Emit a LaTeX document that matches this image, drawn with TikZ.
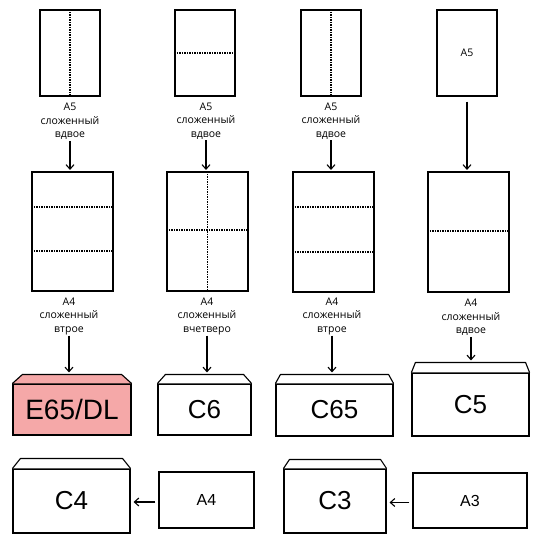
\documentclass[tikz,border=0pt]{standalone}
\usepackage{fontspec}
\setmainfont{Liberation Sans}
\newfontfamily\lblfont{Open Sans}
\usetikzlibrary{arrows.meta}
\definecolor{envpink}{RGB}{245,168,168}
\newcommand\envflap[4]{%
	\draw[line width=1.1pt,fill=#4,line join=round] (#1.north west) -- ([xshift=#2,yshift=#3]#1.north west) -- ([xshift=-#2,yshift=#3]#1.north east) -- (#1.north east);
	\coordinate (#1-top) at ([yshift=#3]#1.north);}
\begin{document}
\begin{tikzpicture}[x=1pt,y=-1pt,
		sheet/.style={draw,line width=1.1pt,inner sep=0pt,font=\lblfont\fontsize{10.5}{12}\selectfont},
		lbl/.style={align=center,inner sep=1pt,font=\lblfont\fontsize{10.5}{13.5}\selectfont},
		env/.style={draw,line width=1.1pt,inner sep=0pt,font=\fontsize{26}{30}\selectfont},
		paper/.style={draw,line width=1.1pt,inner sep=0pt,font=\fontsize{16}{18}\selectfont},
		fold/.style={dash pattern=on 1.1pt off 1.4pt,line width=1.1pt},
		arr/.style={-{Straight Barb[length=4.5pt,width=8pt]},line width=1.1pt}]
	\useasboundingbox (0,0) rectangle (538,538);
	
	\node[sheet,minimum width=60pt,minimum height=86pt] (a5a) at (70,53) {};
	\node[sheet,minimum width=60pt,minimum height=86pt] (a5b) at (205,53) {};
	\node[sheet,minimum width=60pt,minimum height=86pt] (a5c) at (331,53) {};
	\node[sheet,minimum width=60pt,minimum height=86pt] (a5d) at (467,53) {A5};
	\draw[fold] (a5a.north) -- (a5a.south);
	\draw[fold] (a5b.west) -- (a5b.east);
	\draw[fold] (a5c.north) -- (a5c.south);
	
	\node[lbl] (la) at (70,121.5) {A5\\сложенный\\вдвое};
	\node[lbl] (lb) at (206,121) {A5\\сложенный\\вдвое};
	\node[lbl] (lc) at (331,121) {A5\\сложенный\\вдвое};
	
	\node[sheet,minimum width=81pt,minimum height=119pt] (a4a) at (72.5,231.5) {};
	\node[sheet,minimum width=81pt,minimum height=119pt] (a4b) at (207.5,231.5) {};
	\node[sheet,minimum width=81pt,minimum height=120pt] (a4c) at (333.5,232) {};
	\node[sheet,minimum width=81pt,minimum height=120pt] (a4d) at (468.5,232) {};
	\draw[fold] (a4a.west |- 0,207) -- (a4a.east |- 0,207);
	\draw[fold] (a4a.west |- 0,251) -- (a4a.east |- 0,251);
	\draw[fold] (a4b.north) -- (a4b.south);
	\draw[fold] (a4b.west |- 0,230) -- (a4b.east |- 0,230);
	\draw[fold] (a4c.west |- 0,207) -- (a4c.east |- 0,207);
	\draw[fold] (a4c.west |- 0,252) -- (a4c.east |- 0,252);
	\draw[fold] (a4d.west |- 0,231) -- (a4d.east |- 0,231);
	
	\draw[arr,shorten >=1.5pt] (la.south) -- (la.south |- a4a.north);
	\draw[arr,shorten >=1.5pt] (lb.south) -- (lb.south |- a4b.north);
	\draw[arr,shorten >=1.5pt] (lc.south) -- (lc.south |- a4c.north);
	\draw[arr,shorten <=5pt,shorten >=1.5pt] (a5d.south) -- (a5d.south |- a4d.north);
	
	\node[lbl] (ld) at (69,316) {A4\\сложенный\\втрое};
	\node[lbl] (le) at (207,316) {A4\\сложенный\\вчетверо};
	\node[lbl] (lf) at (332,316) {A4\\сложенный\\втрое};
	\node[lbl] (lg) at (471,317.5) {A4\\сложенный\\вдвое};
	
	\node[env,minimum width=118pt,minimum height=51pt,fill=envpink,font=\fontsize{28}{32}\selectfont] (dl) at (72,409.5) {E65/DL};
	\envflap{dl}{10pt}{9pt}{envpink}
	\node[env,minimum width=93pt,minimum height=51pt] (c6) at (204.5,409.5) {C6};
	\envflap{c6}{8pt}{9pt}{white}
	\node[env,minimum width=117pt,minimum height=52pt] (c65) at (334.5,410) {C65};
	\envflap{c65}{5pt}{9pt}{white}
	\node[env,minimum width=117pt,minimum height=63pt] (c5) at (470.5,404.5) {C5};
	\envflap{c5}{4pt}{10pt}{white}
	
	\draw[arr,shorten >=2pt] (ld.south) -- (ld.south |- dl-top);
	\draw[arr,shorten >=2pt] (le.south) -- (le.south |- c6-top);
	\draw[arr,shorten >=2pt] (lf.south) -- (lf.south |- c65-top);
	\draw[arr,shorten >=2pt] (lg.south) -- (lg.south |- c5-top);
	
	\node[env,minimum width=117pt,minimum height=64pt] (c4) at (71.5,501) {C4};
	\envflap{c4}{8pt}{10pt}{white}
	\node[paper,minimum width=95pt,minimum height=56pt] (pa4) at (206.5,500) {A4};
	\node[env,minimum width=102pt,minimum height=64pt] (c3) at (335,501) {C3};
	\envflap{c3}{6pt}{9pt}{white}
	\node[paper,minimum width=114pt,minimum height=55pt] (pa3) at (470,500.5) {A3};
	
	\draw[arr,shorten <=3pt,shorten >=3pt] ([yshift=-2pt]pa4.west) -- ([yshift=-2pt]pa4.west -| c4.east);
	\draw[arr,shorten <=3pt,shorten >=3pt] ([yshift=-2pt]pa3.west) -- ([yshift=-2pt]pa3.west -| c3.east);
\end{tikzpicture}
\end{document}
